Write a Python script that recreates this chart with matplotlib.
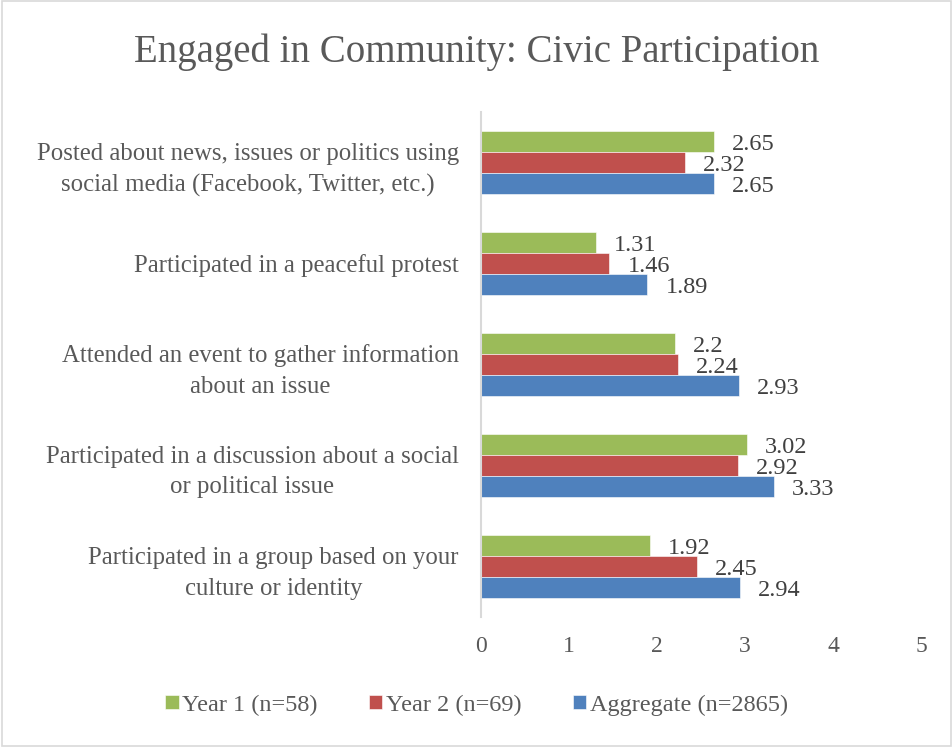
import numpy as np
import matplotlib.pyplot as plt
from matplotlib.patches import Rectangle

plt.rcParams['font.family'] = ['Liberation Serif', 'DejaVu Serif']

categories = [
    'Posted about news, issues or politics using\nsocial media (Facebook, Twitter, etc.)',
    'Participated in a peaceful protest',
    'Attended an event to gather information\nabout an issue',
    'Participated in a discussion about a social\nor political issue',
    'Participated in a group based on your\nculture or identity',
]
year1 = [2.65, 1.31, 2.2, 3.02, 1.92]
year2 = [2.32, 1.46, 2.24, 2.92, 2.45]
aggregate = [2.65, 1.89, 2.93, 3.33, 2.94]
series_names = ['Year 1 (n=58)', 'Year 2 (n=69)', 'Aggregate (n=2865)']
colors = ['#9BBB59', '#C0504D', '#4F81BD']
text_col = '#595959'

fig = plt.figure(figsize=(9.53, 7.47), dpi=100)
ax = fig.add_axes([481 / 953, 1 - 617 / 747, 440 / 953, 505 / 747])

# first category on top
pos = np.arange(len(categories))[::-1]
h = 0.21
offsets = [h, 0, -h]
for vals, off, col, name in zip([year1, year2, aggregate], offsets, colors, series_names):
    bars = ax.barh(pos + off, vals, height=h, color=col, label=name,
                   edgecolor='white', linewidth=0.4)
    for b, v in zip(bars, vals):
        ax.annotate(f'{v:g}', (v, b.get_y() + b.get_height() / 2),
                    xytext=(13, -2), textcoords='offset points',
                    ha='left', va='center', fontsize=17.5, color='#404040')

ax.set_xlim(0, 5)
ax.set_ylim(-0.5, len(categories) - 0.5)
ax.set_xticks(range(6))
ax.set_yticks(pos)
ax.set_yticklabels(categories)
for lbl in ax.get_yticklabels():
    lbl.set_multialignment('center')
    lbl.set_linespacing(1.5)
ax.tick_params(axis='y', length=0, pad=16, labelsize=17.8, labelcolor=text_col)
ax.tick_params(axis='x', length=0, pad=14, labelsize=17, labelcolor=text_col)
for s in ['top', 'right', 'bottom']:
    ax.spines[s].set_visible(False)
ax.spines['left'].set_color('#D9D9D9')
ax.spines['left'].set_linewidth(1.5)

fig.suptitle('Engaged in Community: Civic Participation', y=1 - 52 / 747,
             va='center', fontsize=28, color=text_col)

handles, labels = ax.get_legend_handles_labels()
fig.legend(handles, labels, loc='center', bbox_to_anchor=(0.5, 1 - 705 / 747),
           ncol=3, frameon=False, fontsize=17.5, labelcolor=text_col,
           handlelength=0.55, handleheight=0.55, handletextpad=0.15, columnspacing=2.1)

fig.patches.append(Rectangle((0.002, 0.002), 0.996, 0.996, transform=fig.transFigure,
                             fill=False, edgecolor='#D9D9D9', linewidth=1.2))

fig.savefig('out.png', dpi=100)
